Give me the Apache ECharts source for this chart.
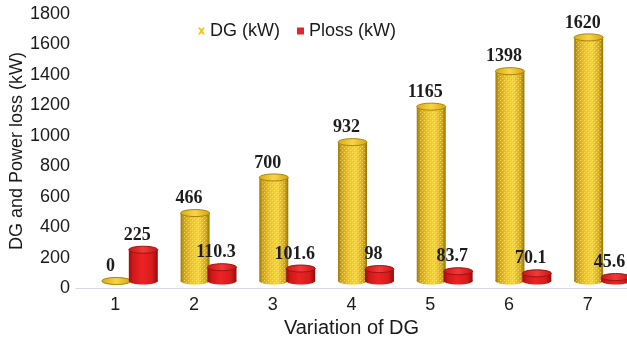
<!DOCTYPE html>
<html>
<head>
<meta charset="utf-8">
<script src="https://cdn.jsdelivr.net/npm/echarts@6/dist/echarts.min.js"></script>
<style>
  html, body { margin: 0; padding: 0; background: #ffffff; }
  #chart { width: 627px; height: 337px; }
</style>
</head>
<body>
<div id="chart"></div>
<script>
// Categories and measured values
const categories = ['1', '2', '3', '4', '5', '6', '7'];
const dgValues = [0, 466, 700, 932, 1165, 1398, 1620];
const plossValues = [225, 110.3, 101.6, 98, 83.7, 70.1, 45.6];
const yTicks = { min: 0, max: 1800, step: 200 };

// Small dotted mesh laid over the gold cylinders
function meshCanvas() {
  const c = document.createElement('canvas');
  c.width = 4; c.height = 4;
  const g = c.getContext('2d');
  g.fillStyle = 'rgba(255, 243, 185, 0.55)';
  g.fillRect(0, 0, 1, 1);
  g.fillRect(2, 2, 1, 1);
  g.fillStyle = 'rgba(190, 140, 0, 0.18)';
  g.fillRect(1, 1, 1, 1);
  g.fillRect(3, 3, 1, 1);
  return c;
}
const mesh = meshCanvas();

function hGrad(stops) {
  return new echarts.graphic.LinearGradient(0, 0, 1, 0,
    stops.map(s => ({ offset: s[0], color: s[1] })));
}

const goldBody = [[0, '#9c7808'], [0.12, '#d3a50b'], [0.38, '#f6c713'], [0.62, '#ffd424'], [0.86, '#dcac0c'], [1, '#94730a']];
const goldTop = [[0, '#d8ab10'], [0.5, '#f8d548'], [1, '#d2a40e']];
const redBody = [[0, '#9a0c0c'], [0.14, '#cf1818'], [0.45, '#ec2323'], [0.8, '#d81c1c'], [1, '#950b0b']];
const redTop = [[0, '#c81616'], [0.5, '#f03a3a'], [1, '#c41414']];

// Draws one cylinder per data item, placed through the category/value axes
function cylinder(offsetFrac, widthFrac, body, topFill, rim, withMesh) {
  return function (params, api) {
    const idx = api.value(0);
    const val = api.value(1);
    const base = api.coord([idx, 0]);
    const tip = api.coord([idx, val]);
    const band = api.size([1, 0])[0];
    const cx = base[0] + band * offsetFrac;
    const w = band * widthFrac;
    const rx = w / 2;
    const ry = 3.5;
    const yBottom = base[1] - 7;
    const yTop = Math.min(tip[1] - 4, yBottom);
    const children = [
      { type: 'ellipse', shape: { cx: cx, cy: yBottom, rx: rx, ry: ry }, style: { fill: hGrad(body) } },
      { type: 'rect', shape: { x: cx - rx, y: yTop, width: w, height: yBottom - yTop }, style: { fill: hGrad(body) } }
    ];
    if (withMesh && yBottom - yTop > 0) {
      children.push({ type: 'rect', shape: { x: cx - rx + 2, y: yTop, width: w - 4, height: yBottom - yTop + ry - 1 },
        style: { fill: { image: mesh, repeat: 'repeat' } } });
    }
    children.push(
      { type: 'ellipse', shape: { cx: cx, cy: yTop, rx: rx, ry: ry },
        style: { fill: hGrad(topFill), stroke: rim, lineWidth: 1 } },
      { type: 'text', style: {
          text: String(val), x: cx - 6, y: yTop - ry - 11,
          align: 'center', verticalAlign: 'middle',
          fontFamily: '"Liberation Serif", "Times New Roman", serif',
          fontWeight: 'bold', fontSize: 18, fill: '#1d1d1d'
        }, z2: 10 }
    );
    return { type: 'group', children: children };
  };
}

const chart = echarts.init(document.getElementById('chart'), null, { renderer: 'canvas' });
const sans = '"Liberation Sans", Arial, sans-serif';

chart.setOption({
  animation: false,
  backgroundColor: '#ffffff',
  legend: {
    left: 193, top: 17,
    itemWidth: 7, itemHeight: 7, itemGap: 17,
    textStyle: { fontFamily: sans, fontSize: 18, color: '#1a1a1a' },
    data: [
      { name: 'DG (kW)', icon: 'path://M0,0 L2.5,0 L5,3 L7.5,0 L10,0 L6.4,5 L10,10 L7.5,10 L5,7 L2.5,10 L0,10 L3.6,5 Z' },
      { name: 'Ploss (kW)', icon: 'rect' }
    ]
  },
  grid: { left: 76, right: 0, top: 14, bottom: 49, containLabel: false, outerBoundsMode: 'none' },
  xAxis: {
    type: 'category',
    data: categories,
    name: 'Variation of DG',
    nameLocation: 'middle',
    nameGap: 24,
    nameTextStyle: { fontFamily: sans, fontSize: 20, color: '#1a1a1a' },
    axisLine: { show: true, lineStyle: { color: '#d8d8ea', width: 1 } },
    axisTick: { show: false },
    axisLabel: { fontFamily: sans, fontSize: 18, color: '#1a1a1a', margin: 8 },
    splitLine: { show: false }
  },
  yAxis: {
    type: 'value',
    min: yTicks.min, max: yTicks.max, interval: yTicks.step,
    name: 'DG and Power loss (kW)',
    nameLocation: 'middle',
    nameGap: 50,
    nameMoveOverlap: false,
    nameTextStyle: { fontFamily: sans, fontSize: 18, color: '#1a1a1a' },
    axisLine: { show: false },
    axisTick: { show: false },
    axisLabel: { fontFamily: sans, fontSize: 18, color: '#1a1a1a', margin: 6, formatter: v => String(v) },
    splitLine: { show: false }
  },
  series: [
    {
      name: 'DG (kW)',
      type: 'custom',
      itemStyle: { color: '#f5c000' },
      renderItem: cylinder(0.013, 0.368, goldBody, goldTop, '#a98408', true),
      data: dgValues.map((v, i) => [i, v]),
      clip: false
    },
    {
      name: 'Ploss (kW)',
      type: 'custom',
      itemStyle: { color: '#e0262b' },
      renderItem: cylinder(0.355, 0.368, redBody, redTop, '#a31010', false),
      data: plossValues.map((v, i) => [i, v]),
      clip: false
    }
  ]
});
</script>
</body>
</html>
